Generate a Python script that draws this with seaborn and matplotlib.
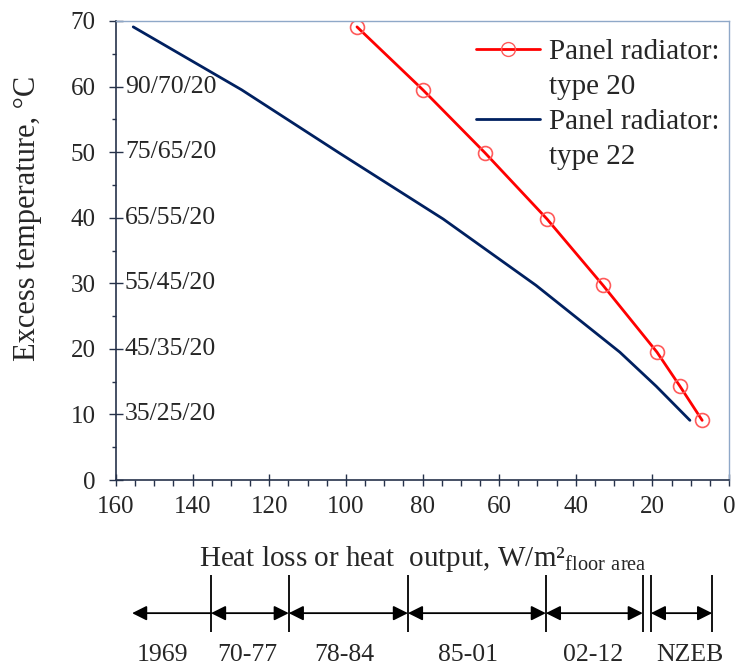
import matplotlib
matplotlib.use("Agg")
import matplotlib.pyplot as plt
import matplotlib.transforms as mtransforms
from matplotlib.lines import Line2D
from matplotlib.ticker import MultipleLocator
import seaborn as sns
import pandas as pd

# data
excess_temp = [69.1, 59.5, 49.9, 39.8, 29.7, 19.5, 14.3, 9.1]
output_type20 = [97.1, 79.9, 63.7, 47.5, 32.9, 18.8, 12.8, 7.0]
output_type22 = [155.5, 127.2, 101.8, 74.6, 50.4, 28.5, 19.0, 10.2]

regime_labels = ["90/70/20", "75/65/20", "65/55/20", "55/45/20", "45/35/20", "35/25/20"]
regime_temps = [60, 50, 40, 30, 20, 10]

period_labels = ["1969", "70-77", "78-84", "85-01", "02-12", "NZEB"]
period_bounds = [135.2, 114.9, 83.8, 47.8, 22.5, 20.4, 4.4]
period_start_1969 = 155.8
period_label_x = [147.8, 125.8, 100.3, 68.1, 35.5, 10.2]

df20 = pd.DataFrame({"q": output_type20, "dt": excess_temp})
df22 = pd.DataFrame({"q": output_type22, "dt": excess_temp})

sns.set_style("ticks")
plt.rcParams["font.family"] = ["Liberation Serif", "DejaVu Serif"]
plt.rcParams["mathtext.fontset"] = "custom"
plt.rcParams["mathtext.rm"] = "Liberation Serif"

fig = plt.figure(figsize=(7.36, 6.68), dpi=100)
ax = fig.add_axes([0.1576, 0.2814, 0.8329, 0.6872])

red = "#FF0000"
navy = "#002060"

sns.lineplot(data=df20, x="q", y="dt", ax=ax, color=red, lw=2.0, sort=False,
             marker="o", markersize=10, markerfacecolor="none",
             markeredgecolor="#FF5A5A", markeredgewidth=1.2)
sns.lineplot(data=df22, x="q", y="dt", ax=ax, color=navy, lw=2.0, sort=False)

ax.set_xlim(160, 0)
ax.set_ylim(0, 70)
ax.xaxis.set_major_locator(MultipleLocator(20))
ax.xaxis.set_minor_locator(MultipleLocator(5))
ax.yaxis.set_major_locator(MultipleLocator(10))
ax.yaxis.set_minor_locator(MultipleLocator(5))

dark = "#26324a"
light = "#8fa8c8"
for s in ["left", "bottom"]:
    ax.spines[s].set_color(dark)
    ax.spines[s].set_linewidth(1.2)
for s in ["top", "right"]:
    ax.spines[s].set_color(light)
    ax.spines[s].set_linewidth(1.0)

ax.tick_params(axis="x", which="major", direction="inout", length=9, width=1,
               color=dark, labelsize=18, pad=7)
ax.tick_params(axis="x", which="minor", direction="out", length=4, width=1, color=dark)
ax.tick_params(axis="y", which="major", direction="inout", length=9.5, width=1,
               color=dark, labelsize=18, pad=10)
ax.tick_params(axis="y", which="minor", direction="out", length=3, width=1, color=dark)

# supply temperature regimes next to the y ticks
for lab, t in zip(regime_labels, regime_temps):
    ax.text(157.7, t, lab, fontsize=18.5, ha="left", va="center")

ax.set_xlabel("Heat loss or heat  output, W/m\u00b2$_{\\mathregular{floor\\ area}}$",
              fontsize=21)
ax.xaxis.set_label_coords(0.5, -0.14)
ax.set_ylabel("Excess temperature, \u00b0C", fontsize=22)
ax.yaxis.set_label_coords(-0.12, 0.57)

blank = Line2D([], [], color="none")
h = [Line2D([], [], color=red, lw=2.0, marker="o", markersize=10,
            markerfacecolor="none", markeredgecolor="#FF5A5A"),
     blank,
     Line2D([], [], color=navy, lw=2.0),
     blank]
leg = ax.legend(h, ["Panel radiator:", "type 20", "Panel radiator:", "type 22"],
                loc="upper right", bbox_to_anchor=(1.013, 1.0), frameon=False,
                fontsize=21, handlelength=2.2, handletextpad=0.3,
                labelspacing=0.3, borderaxespad=0.2)

# building period timeline below the axis
trans = mtransforms.blended_transform_factory(ax.transData, ax.transAxes)
ax.vlines(period_bounds, -0.331, -0.207, transform=trans, clip_on=False,
          color="black", lw=1.3)
arrow_y = -0.290
segments = [(period_bounds[0], period_start_1969, "-|>")]
for a, b in [(0, 1), (1, 2), (2, 3), (3, 4), (5, 6)]:
    segments.append((period_bounds[a], period_bounds[b], "<|-|>"))
for x0, x1, style in segments:
    ax.annotate("", xy=(x1, arrow_y), xytext=(x0, arrow_y), xycoords=trans,
                textcoords=trans, annotation_clip=False,
                arrowprops=dict(arrowstyle=style, color="black", lw=1.3,
                                mutation_scale=22, shrinkA=0, shrinkB=0))
for lab, x in zip(period_labels, period_label_x):
    ax.text(x, -0.381, lab, transform=trans, fontsize=18.5, ha="center",
            va="center", clip_on=False)

fig.savefig("out.png", dpi=100)
